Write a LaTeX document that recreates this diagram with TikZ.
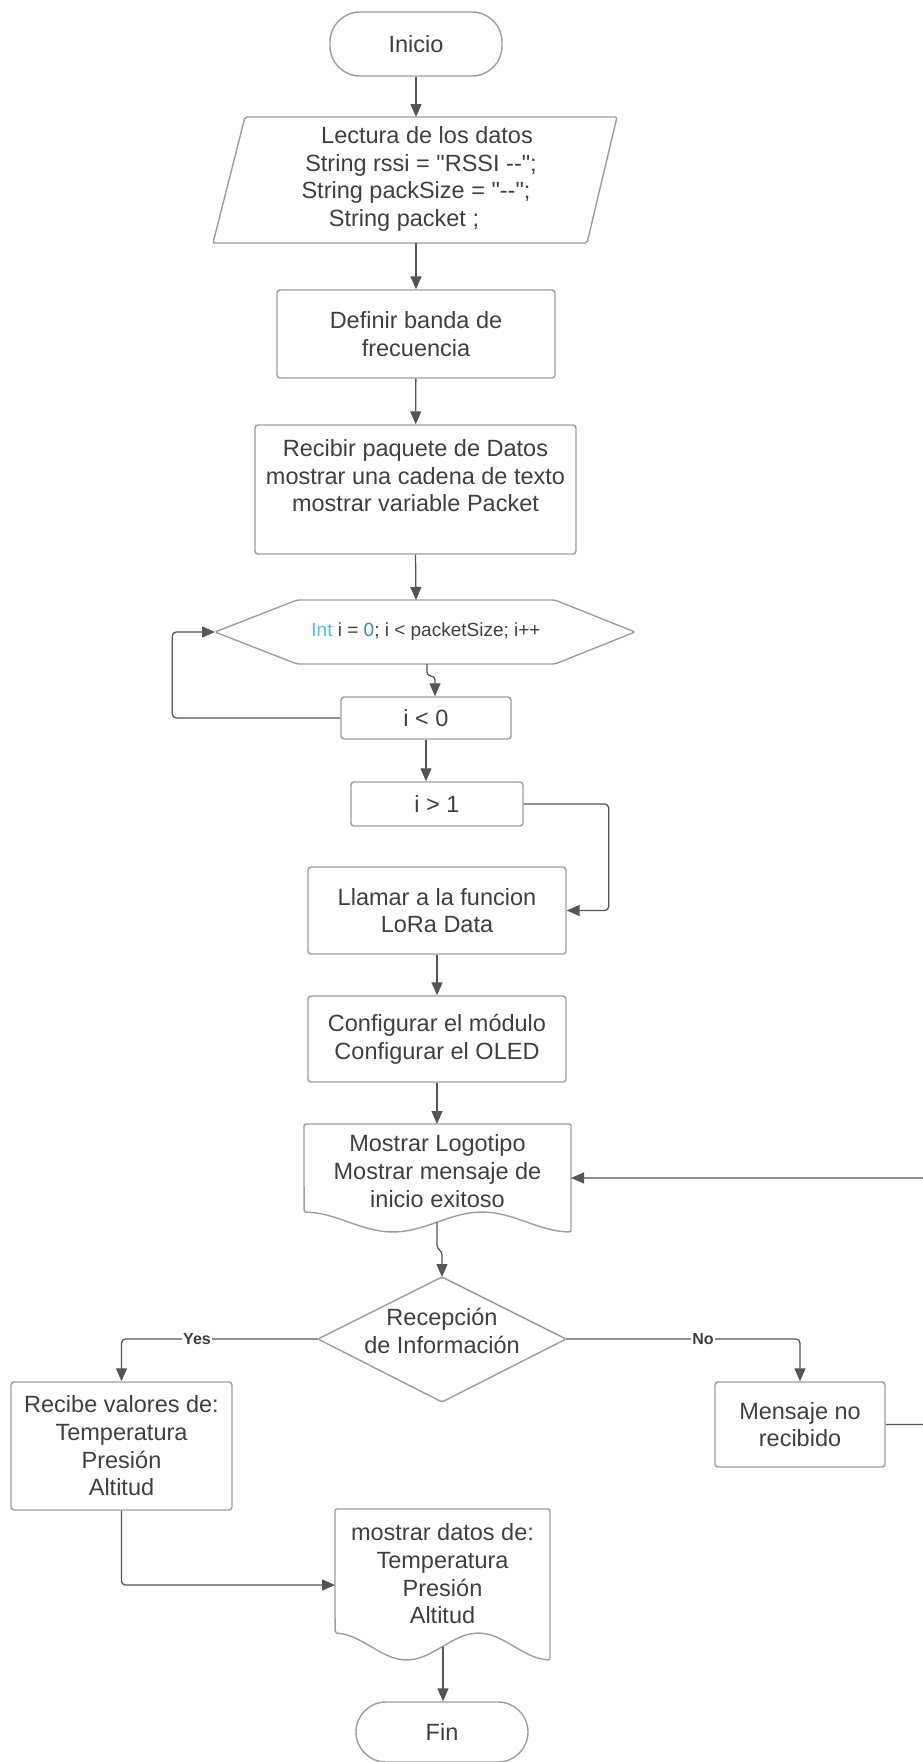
\documentclass[tikz,border=0pt]{standalone}
\usepackage{fontspec}
\setmainfont{Liberation Sans}[Ligatures=TeXOff]
\usetikzlibrary{arrows.meta}
\definecolor{txt}{HTML}{3F3F3F}
\definecolor{edgec}{HTML}{9C9C9C}
\definecolor{connc}{HTML}{555555}
\definecolor{intc}{HTML}{4FC3D6}
\definecolor{zeroc}{HTML}{3E8F94}
\begin{document}
\begin{tikzpicture}[x=1pt,y=-1pt,
  every node/.style={text=txt, font=\fontsize{23.5}{27.7}\selectfont, align=center},
  box/.style={draw=edgec, line width=1.4pt, rounded corners=3pt, inner sep=0pt},
  term/.style={draw=edgec, line width=1.4pt, rounded corners=30pt, inner sep=0pt},
  shapeline/.style={draw=edgec, line width=1.4pt, rounded corners=2pt},
  conn/.style={draw=connc, line width=1.3pt, -{Triangle[length=13pt,width=11pt]}},
  lbl/.style={font=\bfseries\fontsize{16}{19}\selectfont, fill=white, inner sep=1.5pt, text=txt}
]
\useasboundingbox (0,0) rectangle (923,1762);

% ---------- shapes ----------
\node[term, minimum width=172pt, minimum height=64pt] (inicio) at (416,44) {Inicio};

\draw[shapeline] (245,117) -- (617,117) -- (587,243) -- (213,243) -- cycle;
\node (lectura) at (416,179) {\hspace*{22pt}Lectura de los datos\\\hspace*{10pt}String rssi = "RSSI --";\\String packSize = "--";\hspace*{8pt}\\String packet ;\hspace*{24pt}};
\coordinate (lectura-n) at (416,117);
\coordinate (lectura-s) at (416,243);

\node[box, minimum width=278pt, minimum height=88pt] (definir) at (416,334) {Definir banda de\\frecuencia};

\node[box, minimum width=321pt, minimum height=129pt] (recibir) at (415.5,489.5) {Recibir paquete de Datos\\mostrar una cadena de texto\\mostrar variable Packet\\\mbox{}};

\draw[shapeline] (215,632) -- (297,600) -- (555,600) -- (635,632) -- (555,664) -- (297,664) -- cycle;
\node[font=\fontsize{19}{22}\selectfont] (loop) at (426,632) {\textcolor{intc}{Int} i = \textcolor{zeroc}{0}; i < packetSize; i++};
\coordinate (loop-n) at (416,600);
\coordinate (loop-s) at (427,664);
\coordinate (loop-w) at (215,632);

\node[box, minimum width=170pt, minimum height=42pt] (ilt) at (426,718) {i < 0};
\node[box, minimum width=172pt, minimum height=44pt] (igt) at (437,804) {i > 1};

\node[box, minimum width=258pt, minimum height=87pt] (llamar) at (437,910.5) {Llamar a la funcion\\LoRa Data};
\node[box, minimum width=258pt, minimum height=86pt] (config) at (437,1039) {Configurar el módulo\\Configurar el OLED};

% document: Mostrar Logotipo
\draw[shapeline] plot[domain=1:0, samples=40] ({304+\x*267},{1222-10*cos(540*\x)}) -- (304,1124) -- (571,1124) -- cycle;
\node (mostrar) at (437.5,1171) {Mostrar Logotipo\\Mostrar mensaje de\\inicio exitoso};
\coordinate (mostrar-n) at (437,1124);
\coordinate (mostrar-s) at (437,1222);
\coordinate (mostrar-e) at (571,1178);

% decision
\draw[shapeline] (442,1277) -- (566,1339) -- (442,1402) -- (318,1339) -- cycle;
\node (dec) at (442,1331) {Recepción\\de Información};
\coordinate (dec-n) at (442,1277);
\coordinate (dec-w) at (318,1339);
\coordinate (dec-e) at (566,1339);

\node[box, minimum width=221pt, minimum height=128pt] (recibe) at (121.5,1446) {Recibe valores de:\\Temperatura\\Presión\\Altitud};
\node[box, minimum width=170pt, minimum height=85pt] (mensaje) at (800,1424.5) {Mensaje no\\recibido};

% document: mostrar datos
\draw[shapeline] plot[domain=1:0, samples=40] ({335+\x*215},{1646.5-13.5*cos(540*\x)}) -- (335,1509) -- (550,1509) -- cycle;
\node (datos) at (442.5,1574) {mostrar datos de:\\Temperatura\\Presión\\Altitud};
\coordinate (datos-w) at (335,1585);
\coordinate (datos-s) at (443,1646.5);

\node[term, minimum width=172pt, minimum height=60pt] (fin) at (442,1732) {Fin};

% ---------- connectors ----------
\draw[conn] (inicio) -- (lectura-n);
\draw[conn] (lectura-s) -- (definir);
\draw[conn] (definir) -- (recibir);
\draw[conn] (recibir.south) -- (loop-n);
\draw[conn, rounded corners=4pt] (loop-s) -- ++(0,12) -| ([xshift=9pt]ilt.north);
\draw[conn, rounded corners=4pt] (ilt.west) -- ++(-168,0) |- (loop-w);
\draw[conn] (ilt.south) -- (ilt.south |- igt.north);
\draw[conn, rounded corners=4pt] (igt.east) -- ++(85,0) |- (llamar.east);
\draw[conn] (llamar) -- (config);
\draw[conn] (config) -- (mostrar-n);
\draw[conn, rounded corners=3pt] (mostrar-s) -- ++(0,26) -- ++(5,4) -- (dec-n);
\draw[conn, rounded corners=4pt] (dec-w) -| (recibe.north);
\node[lbl] (yes) at (197,1339) {Yes};
\draw[conn, rounded corners=4pt] (dec-e) -| (mensaje.north);
\node[lbl] (no) at (703,1339) {No};
\draw[conn, rounded corners=4pt] (mensaje.east) -- ++(50,0) |- (mostrar-e);
\draw[conn, rounded corners=4pt] (recibe.south) |- (datos-w);
\draw[conn] (datos-s) -- (datos-s |- fin.north);
\end{tikzpicture}
\end{document}
